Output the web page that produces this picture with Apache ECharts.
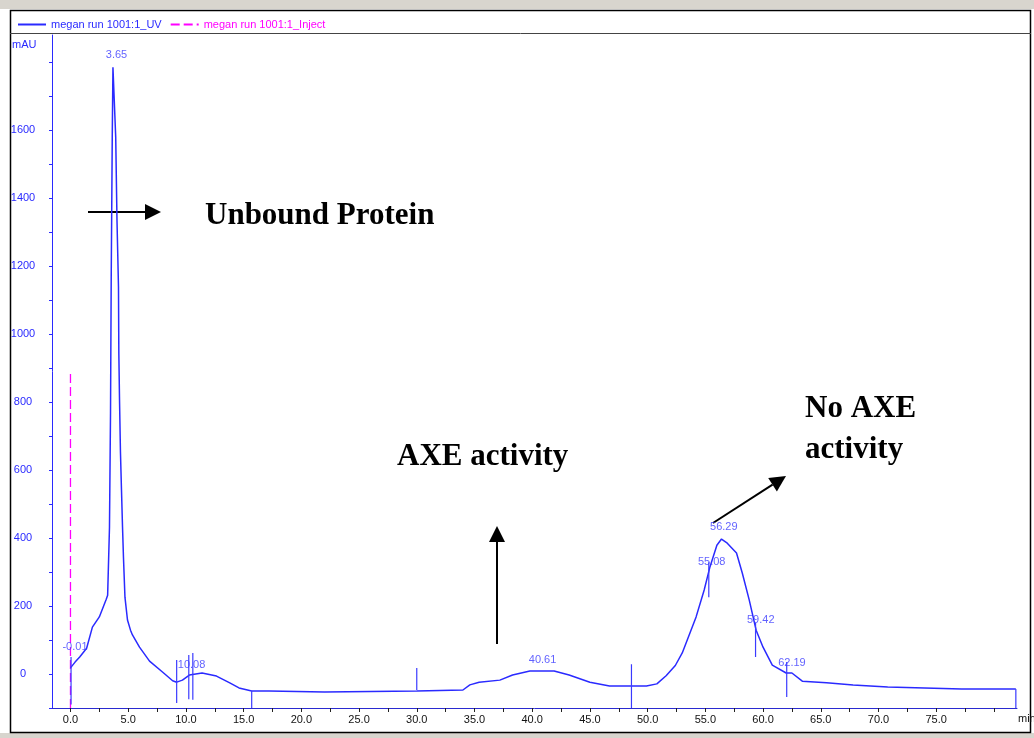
<!DOCTYPE html>
<html>
<head>
<meta charset="utf-8">
<title>megan run 1001:1</title>
<script src="https://cdn.jsdelivr.net/npm/echarts@6.0.0/dist/echarts.min.js"></script>
<style>
  html, body { margin: 0; padding: 0; background: #fff; }
  #chart { width: 1034px; height: 738px; }
</style>
</head>
<body>
<div id="chart"></div>
<script>
// UV trace: retention time (min) and absorbance (mAU)
const uvTimes = [0.0, 0.4, 0.8, 1.4, 1.9, 2.5, 3.1, 3.22, 3.38, 3.47, 3.53, 3.62, 3.68,
  3.92, 4.03, 4.16, 4.19, 4.25, 4.33, 4.42, 4.51, 4.59, 4.72, 4.94, 5.2, 5.37, 5.98, 6.85,
  7.97, 8.85, 9.2, 9.7, 10.3, 11.4, 12.65, 13.8, 14.6, 15.7, 17.2, 17.3, 22.0, 22.1, 30.0,
  30.1, 34.0, 34.6, 35.4, 37.2, 38.3, 39.8, 41.9, 43.2, 45.0, 46.7, 49.9, 50.8, 51.6, 52.4,
  53.0, 54.2, 54.9, 55.4, 56.0, 56.4, 56.9, 57.7, 58.2, 58.8, 59.4, 60.0, 60.8, 62.0, 62.5,
  63.4, 65.5, 67.8, 70.8, 77.2, 81.9]
const uvValues = [18, 35, 50, 76, 138, 168, 220, 232, 432, 770, 1165, 1579, 1785,
  1579, 1335, 1138, 944, 806, 653, 541, 432, 344, 226, 159, 129, 115, 79, 38,
  6, -20, -24, -18, -3, 3, -6, -26, -41, -50, -50, -53, -53, -50, -50,
  -47, -47, -32, -24, -18, -3, 9, 9, -3, -24, -35, -35, -29, -5, 25,
  62, 168, 247, 315, 379, 397, 385, 356, 297, 218, 129, 79, 26, 3, 3,
  -21, -26, -32, -38, -44, -44]

// inject marker
const injectTimes = [0.0, 0.0]
const injectValues = [-100, 888]

// integration boundary ticks
const markerTimes = [0.05, 9.2, 10.25, 10.6, 15.7, 30.0, 48.6, 55.3, 59.35, 62.05, 81.9]
const markerLows = [-90, -85, -74, -76, -100, -47, -100, 226, 50, -68, -100]
const markerHighs = [50, 41, 56, 62, -50, 18, 29, 329, 150, 35, -44]

// peak retention labels and where they sit
const peakNames = ['3.65', '-0.01', '10.08', '40.61', '55.08', '56.29', '59.42', '62.19']
const peakLabelTimes = [3.99, 0.39, 10.49, 40.9, 55.55, 56.6, 59.8, 62.5]
const peakLabelValues = [1820, 79, 26, 41, 329, 432, 159, 32]

// axis ticks
const xTickValues = [0, 2.5, 5, 7.5, 10, 12.5, 15, 17.5, 20, 22.5, 25, 27.5, 30, 32.5, 35,
  37.5, 40, 42.5, 45, 47.5, 50, 52.5, 55, 57.5, 60, 62.5, 65, 67.5, 70, 72.5, 75, 77.5, 80]
const xLabelValues = [0, 5, 10, 15, 20, 25, 30, 35, 40, 45, 50, 55, 60, 65, 70, 75]
const yTickValues = [-100, 0, 100, 200, 300, 400, 500, 600, 700, 800, 900, 1000, 1100,
  1200, 1300, 1400, 1500, 1600, 1700, 1800]
const yLabelValues = [0, 200, 400, 600, 800, 1000, 1200, 1400, 1600]

const UV_NAME = 'megan run 1001:1_UV'
const INJECT_NAME = 'megan run 1001:1_Inject'
const UV_COLOR = '#2a2aff'
const INJECT_COLOR = '#ff00ff'
const SANS = '"Liberation Sans", Arial, sans-serif'
const SERIF = '"Liberation Serif", "Times New Roman", serif'

// boundary ticks as one broken line: low, high, gap, ...
const markerData = []
markerTimes.forEach((t, i) => {
  markerData.push([t, markerLows[i]], [t, markerHighs[i]], [t, '-'])
})

const chart = echarts.init(document.getElementById('chart'))

// small helper for the black annotation arrows
const arrow = (x1, y1, x2, y2) => {
  const ang = Math.atan2(y2 - y1, x2 - x1)
  const len = 16, half = 8
  const bx = x2 - len * Math.cos(ang), by = y2 - len * Math.sin(ang)
  const px = -Math.sin(ang) * half, py = Math.cos(ang) * half
  return [
    { type: 'line', shape: { x1, y1, x2: bx, y2: by }, style: { stroke: '#000', lineWidth: 2 } },
    { type: 'polygon', shape: { points: [[x2, y2], [bx + px, by + py], [bx - px, by - py]] }, style: { fill: '#000' } }
  ]
}

const option = {
  animation: false,
  backgroundColor: '#fff',
  grid: { left: 52, right: 17, top: 35, bottom: 30 },
  legend: {
    left: 12,
    top: 14,
    itemWidth: 28,
    itemHeight: 8,
    itemGap: 8,
    selectedMode: false,
    itemStyle: { opacity: 0 },
    textStyle: { fontSize: 11, fontFamily: SANS },
    data: [
      { name: UV_NAME, textStyle: { color: UV_COLOR } },
      { name: INJECT_NAME, textStyle: { color: INJECT_COLOR } }
    ]
  },
  xAxis: {
    type: 'value',
    min: -1.6,
    max: 82,
    splitLine: { show: false },
    axisLine: { onZero: false, lineStyle: { color: '#2a2ad0', width: 1 } },
    axisTick: { customValues: xTickValues, length: 4, lineStyle: { color: '#222' } },
    axisLabel: {
      customValues: xLabelValues,
      formatter: (v) => v.toFixed(1),
      color: '#111',
      fontSize: 11,
      fontFamily: SANS,
      margin: 6
    }
  },
  yAxis: {
    type: 'value',
    min: -100,
    max: 1880,
    splitLine: { show: false },
    axisLine: { onZero: false, lineStyle: { color: '#2a2aff', width: 1 } },
    axisTick: { customValues: yTickValues, length: 3, lineStyle: { color: '#2a2aff' } },
    axisLabel: {
      customValues: yLabelValues,
      formatter: (v) => String(v),
      color: '#2a2aff',
      fontSize: 11,
      fontFamily: SANS,
      align: 'center',
      margin: 29
    }
  },
  series: [
    {
      name: UV_NAME,
      type: 'line',
      data: uvTimes.map((t, i) => [t, uvValues[i]]),
      showSymbol: false,
      symbol: 'none',
      color: UV_COLOR,
      lineStyle: { color: UV_COLOR, width: 1.5 },
      z: 3
    },
    {
      name: 'boundaries',
      type: 'line',
      data: markerData,
      showSymbol: false,
      symbol: 'none',
      connectNulls: false,
      silent: true,
      color: '#3a3aff',
      lineStyle: { color: '#3a3aff', width: 1.2 },
      z: 3
    },
    {
      name: INJECT_NAME,
      type: 'line',
      data: injectTimes.map((t, i) => [t, injectValues[i]]),
      showSymbol: false,
      symbol: 'none',
      color: INJECT_COLOR,
      lineStyle: { color: INJECT_COLOR, width: 1.3, type: [9, 4] },
      z: 2
    },
    {
      name: 'peaks',
      type: 'scatter',
      data: peakLabelTimes.map((t, i) => [t, peakLabelValues[i]]),
      symbolSize: 1,
      itemStyle: { color: 'rgba(0,0,0,0)' },
      silent: true,
      label: {
        show: true,
        position: 'inside',
        formatter: (p) => peakNames[p.dataIndex],
        color: '#3a3aff',
        fontSize: 11,
        fontFamily: SANS
      },
      z: 4
    }
  ],
  graphic: [
    // window chrome
    { type: 'rect', shape: { x: 0, y: 0, width: 1034, height: 9 }, style: { fill: '#d8d5ce' }, silent: true },
    { type: 'rect', shape: { x: 0, y: 733, width: 1034, height: 5 }, style: { fill: '#d8d5ce' }, silent: true },
    { type: 'rect', shape: { x: 10.5, y: 10.5, width: 1020, height: 722 }, style: { fill: 'none', stroke: '#000', lineWidth: 1.5 }, silent: true },
    { type: 'line', shape: { x1: 10, y1: 33.5, x2: 1031, y2: 33.5 }, style: { stroke: '#444', lineWidth: 1 }, silent: true },
    // axis names
    { type: 'text', style: { text: 'mAU', x: 12, y: 39, fill: '#2a2aff', font: '11px ' + SANS } },
    { type: 'text', style: { text: 'min', x: 1018, y: 713, fill: '#111', font: '11px ' + SANS } },
    // annotations
    { type: 'text', style: { text: 'Unbound Protein', x: 205, y: 216, fill: '#000', font: 'bold 31px ' + SERIF, textVerticalAlign: 'middle' } },
    { type: 'text', style: { text: 'AXE activity', x: 397, y: 457, fill: '#000', font: 'bold 31px ' + SERIF, textVerticalAlign: 'middle' } },
    { type: 'text', style: { text: 'No AXE', x: 805, y: 409, fill: '#000', font: 'bold 31px ' + SERIF, textVerticalAlign: 'middle' } },
    { type: 'text', style: { text: 'activity', x: 805, y: 450, fill: '#000', font: 'bold 31px ' + SERIF, textVerticalAlign: 'middle' } },
    ...arrow(88, 212, 161, 212),
    ...arrow(497, 644, 497, 526),
    ...arrow(713, 523, 786, 476)
  ]
}

chart.setOption(option)
window.addEventListener('resize', () => chart.resize())
</script>
</body>
</html>
